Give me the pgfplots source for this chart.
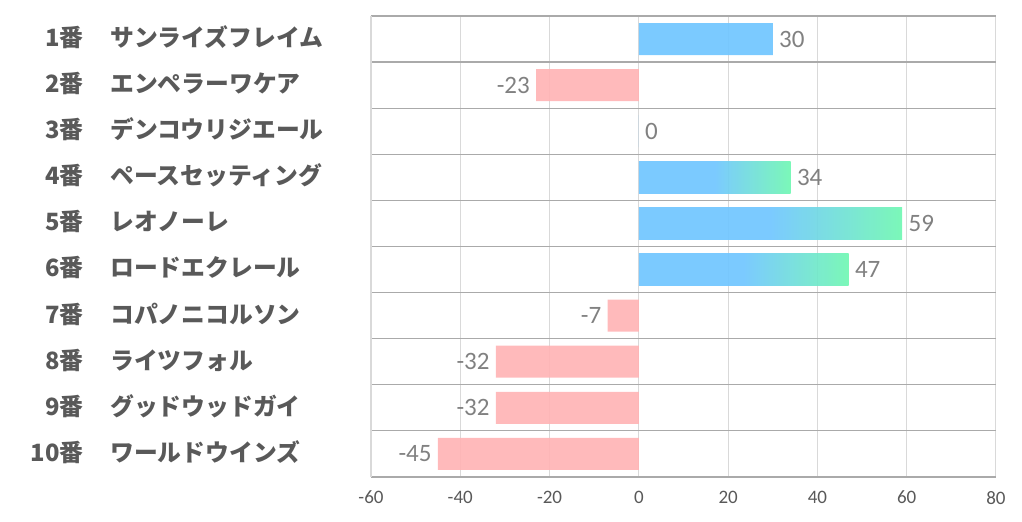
\documentclass[border=0pt]{standalone}
\usepackage{pgfplots}
\pgfplotsset{compat=1.18}
\usepackage{fontspec}
\setmainfont{Carlito}
\newfontfamily\jp{Noto Sans CJK JP}
\definecolor{barblue}{RGB}{112,198,255}
\definecolor{bargreen}{RGB}{112,247,178}
\definecolor{barpink}{RGB}{255,180,181}
\definecolor{hline}{RGB}{170,170,170}
\definecolor{vline}{RGB}{217,217,217}
\definecolor{lab}{RGB}{89,89,89}
\definecolor{val}{RGB}{118,118,118}
\newcommand{\lbl}[2]{\makebox[26.5pt][r]{#1番}\hspace{13.5pt}#2}
\begin{document}
\begin{tikzpicture}
\useasboundingbox (-185.5pt,-22.5pt) rectangle (325.5pt,238.5pt);
\begin{axis}[
  scale only axis,
  width=312.5pt, height=230.5pt,
  xmin=-60, xmax=80,
  ymin=0.5, ymax=10.5,
  y dir=reverse,
  /pgf/number format/assume math mode=true,
  xtick={-60,-40,-20,0,20,40,60,80},
  xticklabels={-60,-40,-20,0,20,40,60,80},
  xmajorgrids,
  major grid style={vline, line width=0.5pt},
  ytick={1,...,10},
  yticklabels={\lbl{1}{サンライズフレイム},\lbl{2}{エンペラーワケア},\lbl{3}{デンコウリジエール},\lbl{4}{ペースセッティング},\lbl{5}{レオノーレ},\lbl{6}{ロードエクレール},\lbl{7}{コパノニコルソン},\lbl{8}{ライツフォル},\lbl{9}{グッドウッドガイ},\lbl{10}{ワールドウインズ}},
  minor ytick={0.5,1.5,...,10.5},
  yminorgrids,
  minor grid style={hline, line width=0.6pt},
  major tick length=0pt, minor tick length=0pt,
  axis x line*=bottom,
  axis y line*=left,
  x axis line style={draw=none},
  y axis line style={draw=vline, line width=0.6pt},
  xticklabel style={font=\fontsize{9.5}{11}\selectfont, text=lab, yshift=-3.5pt},
  yticklabel style={font=\jp\bfseries\fontsize{11.9}{14}\selectfont, text=lab, anchor=west, inner sep=0pt, xshift=-170.5pt, yshift=0.8pt},
  xbar, bar width=16pt, bar shift=0pt,
  nodes near coords,
  nodes near coords align=horizontal,
  every node near coord/.append style={font=\fontsize{12.5}{14}\selectfont, text=val, inner sep=3pt},
  clip=false,
]
\addplot[draw=none, fill=barblue, fill opacity=0.92] coordinates {(30,1) (0,3)};
\addplot[draw=none, left color=barblue, right color=bargreen, middle color=barblue, fill opacity=0.92] coordinates {(34,4)};
\addplot[draw=none, left color=barblue, right color=bargreen, middle color=barblue, fill opacity=0.92] coordinates {(59,5)};
\addplot[draw=none, left color=barblue, right color=bargreen, middle color=barblue, fill opacity=0.92] coordinates {(47,6)};
\addplot[draw=none, fill=barpink, fill opacity=0.92] coordinates {(-23,2) (-7,7) (-32,8) (-32,9) (-45,10)};
\end{axis}
\end{tikzpicture}
\end{document}
